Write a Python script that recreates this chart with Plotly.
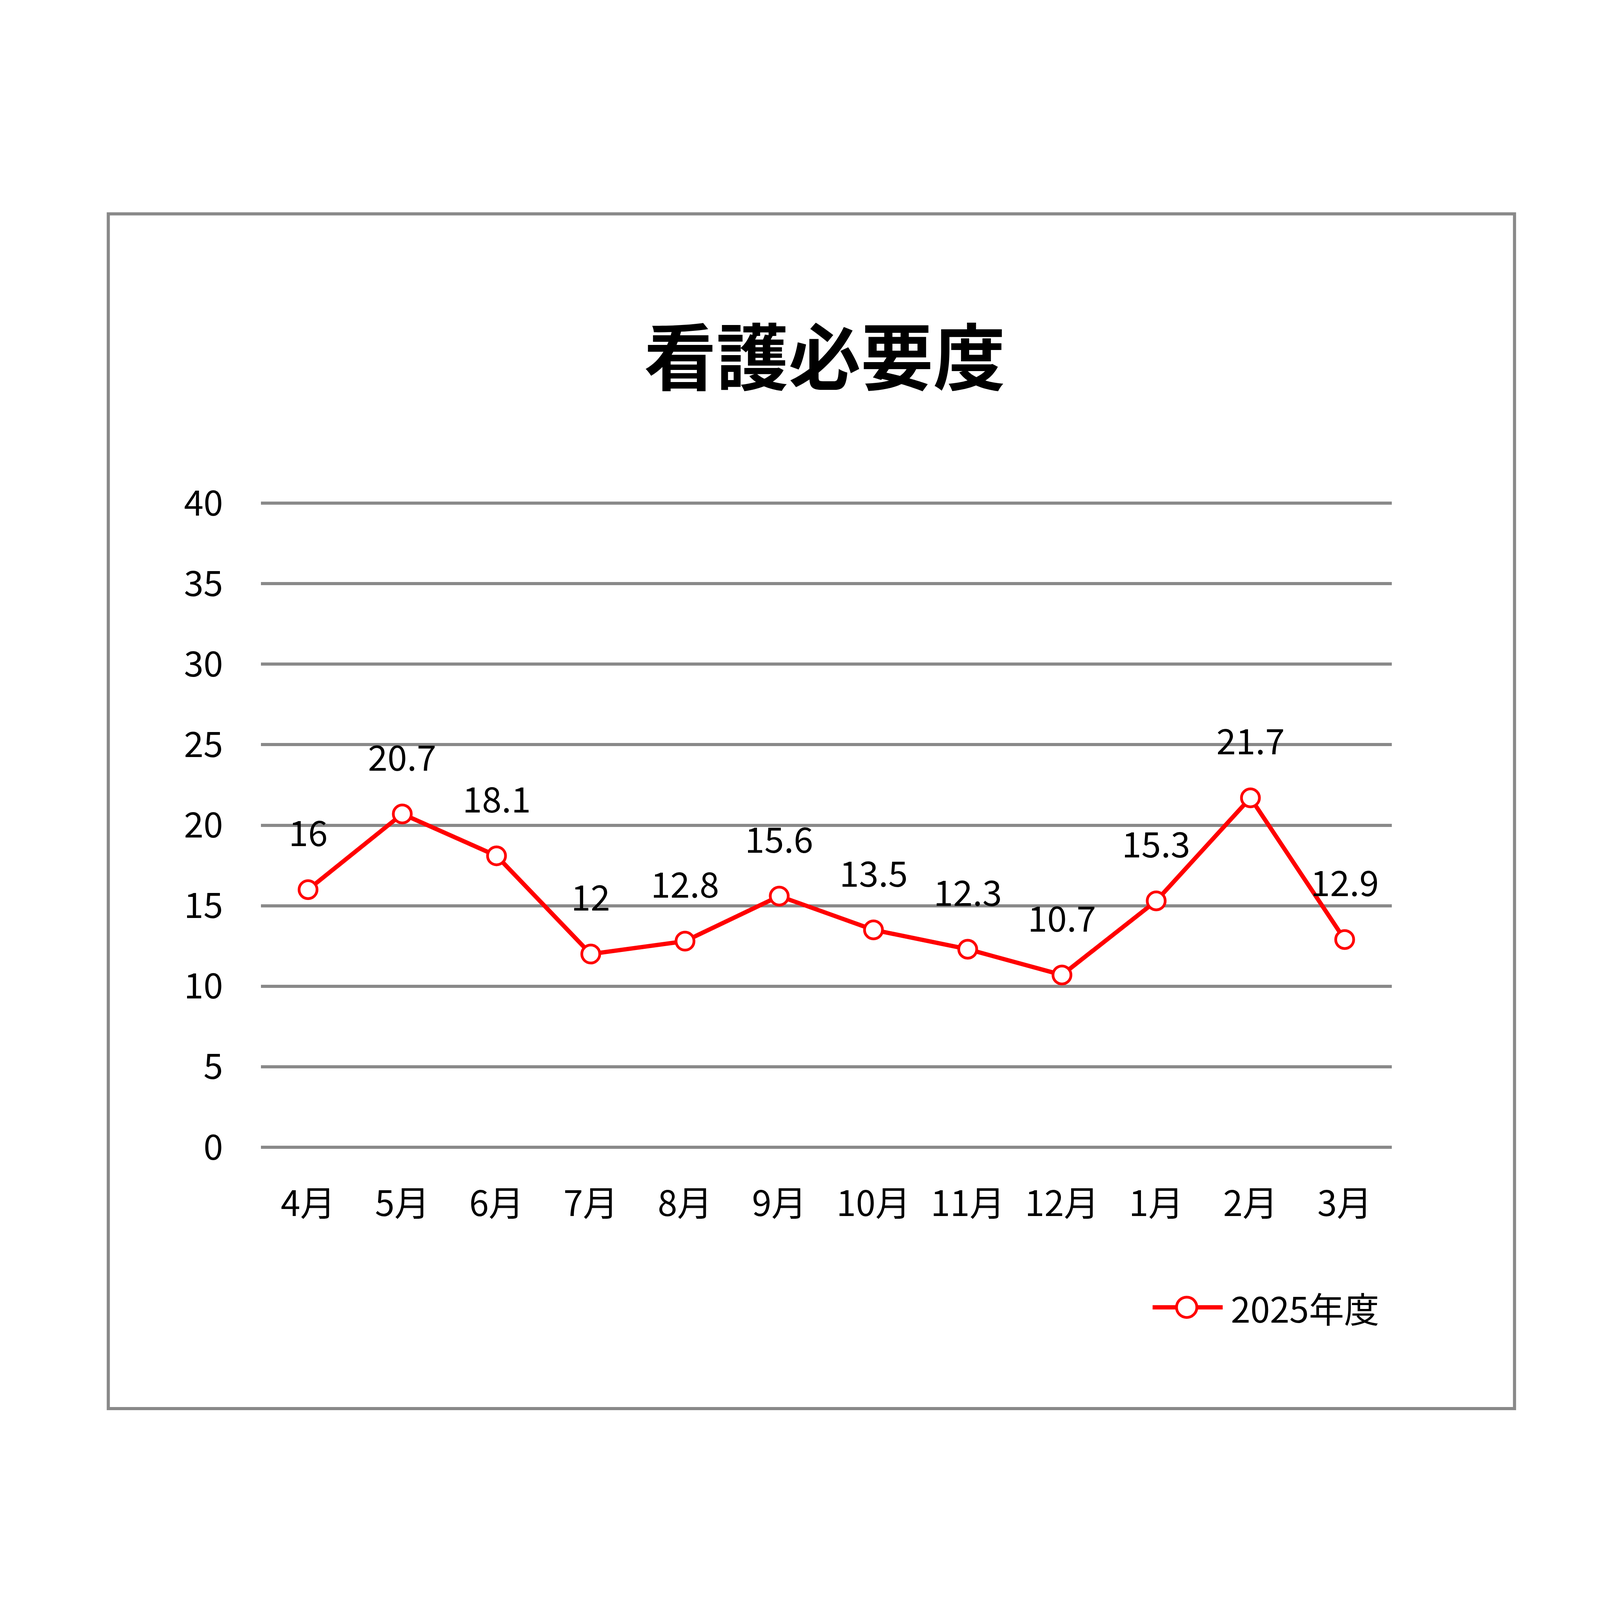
import plotly.graph_objects as go

# データ
months = ["4月", "5月", "6月", "7月", "8月", "9月", "10月", "11月", "12月", "1月", "2月", "3月"]
values_2025 = [16, 20.7, 18.1, 12, 12.8, 15.6, 13.5, 12.3, 10.7, 15.3, 21.7, 12.9]
series_name = "2025年度"
chart_title = "看護必要度"
y_ticks = [0, 5, 10, 15, 20, 25, 30, 35, 40]

# the browser here is 4096x4096, so lay everything out as fractions of that
W, H = 4096, 4096
PL, PR = 0.1611 * W, 0.8679 * W
PT, PB = 0.3115 * H, 0.715 * H
Y_TOP = 40.1  # a little headroom so the 40 gridline is drawn
FONT = "Noto Sans CJK JP"
GRID = "#898989"
RED = "#FF0000"
FS = 90


def px_x(x):
    return (x - PL) / (PR - PL)


def px_y(y):
    return (PB - y) / (PB - PT)


fig = go.Figure()
fig.add_trace(go.Scatter(
    x=months, y=values_2025, name=series_name,
    mode="lines+markers",
    line=dict(color=RED, width=11),
    marker=dict(symbol="circle", size=46, color="white", line=dict(color=RED, width=7)),
    cliponaxis=False, showlegend=False,
))

# データラベル
for m, v in zip(months, values_2025):
    fig.add_annotation(x=m, y=v, text=f"{v:g}", showarrow=False, yshift=150,
                       font=dict(family=FONT, size=FS, color="black"))

# 外枠
fig.add_shape(type="rect", xref="paper", yref="paper",
              x0=px_x(0.0657 * W), x1=px_x(0.9446 * W), y0=px_y(0.8783 * H), y1=px_y(0.1317 * H),
              line=dict(color=GRID, width=8), fillcolor="rgba(0,0,0,0)", layer="below")

# 凡例
ly = px_y(0.815 * H)
fig.add_shape(type="line", xref="paper", yref="paper",
              x0=px_x(0.7184 * W), x1=px_x(0.7622 * W), y0=ly, y1=ly,
              line=dict(color=RED, width=11))
fig.add_shape(type="circle", xref="paper", yref="paper",
              xsizemode="pixel", ysizemode="pixel",
              xanchor=px_x(0.7397 * W), yanchor=ly, x0=-26, x1=26, y0=-26, y1=26,
              line=dict(color=RED, width=7), fillcolor="white")
fig.add_annotation(xref="paper", yref="paper", x=px_x(0.7668 * W), y=ly,
                   xanchor="left", yanchor="middle", showarrow=False, text=series_name,
                   font=dict(family=FONT, size=FS, color="black"))

fig.update_layout(
    width=W, height=H,
    margin=dict(l=PL, r=W - PR, t=PT, b=H - PB, pad=0),
    paper_bgcolor="white", plot_bgcolor="white",
    font=dict(family=FONT, size=FS, color="black"),
    title=dict(text=chart_title, x=0.5135, y=1 - 0.2225, xref="container", yref="container",
               xanchor="center", yanchor="middle",
               font=dict(family=FONT, size=185, color="black", weight="bold")),
    showlegend=False,
    xaxis=dict(type="category", range=[-0.5, 11.5], showgrid=False, zeroline=False, showline=False,
               ticks="", ticklabelstandoff=85, tickfont=dict(family=FONT, size=FS)),
    yaxis=dict(range=[0, Y_TOP], tickvals=y_ticks, showgrid=True, gridcolor=GRID, gridwidth=8,
               zeroline=True, zerolinecolor=GRID, zerolinewidth=8, showline=False,
               ticks="", ticklabelstandoff=96, tickfont=dict(family=FONT, size=FS)),
)

fig.write_html("out.html")
